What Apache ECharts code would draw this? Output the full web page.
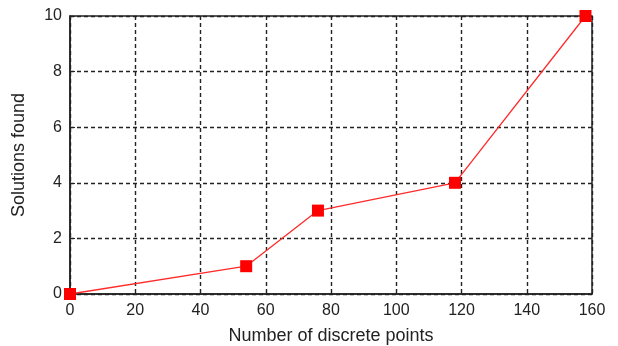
<!DOCTYPE html>
<html>
<head>
<meta charset="utf-8">
<script src="https://cdn.jsdelivr.net/npm/echarts@6/dist/echarts.min.js"></script>
<style>
  html, body { margin: 0; padding: 0; background: #fff; }
  #chart { width: 618px; height: 346px; }
</style>
</head>
<body>
<div id="chart"></div>
<script>
// Solutions found versus number of discrete points
const discretePoints = [0, 54, 76, 118, 158];
const solutionsFound = [0, 1, 3, 4, 10];
const xTicks = [0, 20, 40, 60, 80, 100, 120, 140, 160];
const yTicks = [0, 2, 4, 6, 8, 10];

const chart = echarts.init(document.getElementById('chart'));
const font = 'Liberation Sans, Arial, sans-serif';

const dashed = { show: true, lineStyle: { color: '#222', type: [4, 3], width: 1.4 } };

chart.setOption({
  animation: false,
  backgroundColor: '#fff',
  grid: {
    left: 70, right: 26, top: 16, bottom: 52,
    outerBoundsMode: 'none', containLabel: false,
    show: true, borderColor: '#222', borderWidth: 1.5, backgroundColor: 'transparent'
  },
  xAxis: {
    type: 'value', min: xTicks[0], max: xTicks[xTicks.length - 1], interval: 20,
    name: 'Number of discrete points', nameLocation: 'middle', nameGap: 33,
    nameTextStyle: { fontFamily: font, fontSize: 18, color: '#222' },
    axisLine: { show: true, onZero: false, lineStyle: { color: '#222', width: 1.5 } },
    axisTick: { show: true, inside: true, length: 5, lineStyle: { color: '#222' } },
    axisLabel: { fontFamily: font, fontSize: 16, color: '#222', margin: 9 },
    splitLine: dashed
  },
  yAxis: {
    type: 'value', min: yTicks[0], max: yTicks[yTicks.length - 1], interval: 2,
    name: 'Solutions found', nameLocation: 'middle', nameGap: 42,
    nameTextStyle: { fontFamily: font, fontSize: 18, color: '#222' },
    axisLine: { show: true, onZero: false, lineStyle: { color: '#222', width: 1.5 } },
    axisTick: { show: true, inside: true, length: 5, lineStyle: { color: '#222' } },
    axisLabel: { fontFamily: font, fontSize: 16, color: '#222', margin: 8 },
    splitLine: dashed
  },
  series: [{
    type: 'line',
    data: discretePoints.map((x, i) => [x, solutionsFound[i]]),
    symbol: 'rect', symbolSize: 12,
    itemStyle: { color: '#ff0000' },
    lineStyle: { color: '#ff2a2a', width: 1.3 },
    z: 5
  }]
});
</script>
</body>
</html>
